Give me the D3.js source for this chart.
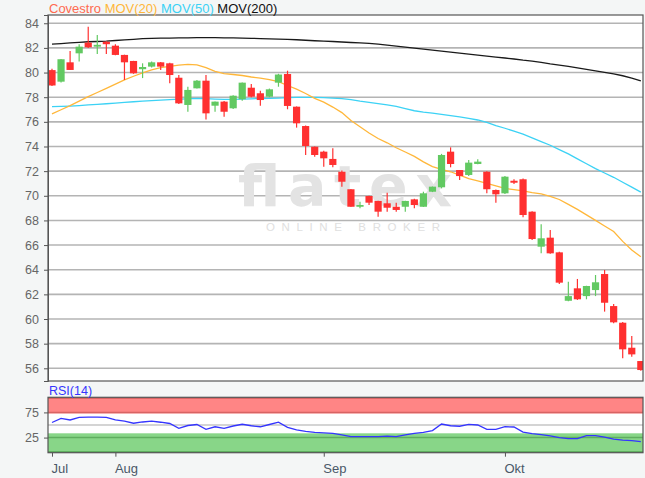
<!DOCTYPE html>
<html><head><meta charset="utf-8">
<script src="https://cdn.jsdelivr.net/npm/d3@7"></script>
<style>
body{margin:0;background:#f4f6f6;}
svg{display:block;font-family:"Liberation Sans",Arial,sans-serif;}
</style>
</head><body>
<svg id="c" width="645" height="478"></svg>
<script>
// ---- data ----
const dates = [
 "2018-07-23","2018-07-24","2018-07-25","2018-07-26","2018-07-27","2018-07-30","2018-07-31",
 "2018-08-01","2018-08-02","2018-08-03","2018-08-06","2018-08-07","2018-08-08","2018-08-09","2018-08-10",
 "2018-08-13","2018-08-14","2018-08-15","2018-08-16","2018-08-17","2018-08-20","2018-08-21","2018-08-22",
 "2018-08-23","2018-08-24","2018-08-27","2018-08-28","2018-08-29","2018-08-30","2018-08-31",
 "2018-09-03","2018-09-04","2018-09-05","2018-09-06","2018-09-07","2018-09-10","2018-09-11","2018-09-12",
 "2018-09-13","2018-09-14","2018-09-17","2018-09-18","2018-09-19","2018-09-20","2018-09-21","2018-09-24",
 "2018-09-25","2018-09-26","2018-09-27","2018-09-28",
 "2018-10-01","2018-10-02","2018-10-03","2018-10-04","2018-10-05","2018-10-08","2018-10-09","2018-10-10",
 "2018-10-11","2018-10-12","2018-10-15","2018-10-16","2018-10-17","2018-10-18","2018-10-19","2018-10-22"];
const open  = [80.2,79.26,80.83,81.56,82.43,82.1,82.5,82.18,81.43,80.94,80.27,80.48,80.83,80.75,79.58,77.37,78.72,79.34,77.31,77.64,77.1,77.83,78.77,78.32,78.04,79.18,79.88,77.23,75.66,73.98,73.58,72.99,71.95,70.53,69.11,69.98,69.58,69.39,69.11,69.11,69.71,69.11,70.33,70.69,73.58,72.09,71.69,72.58,71.95,70.47,70.2,71.22,71.34,68.71,65.87,66.6,65.41,61.48,62.49,61.86,62.35,63.65,61.05,59.7,57.67,56.59];
const high  = [80.3,81.1,81.75,82.3,83.72,83.05,82.55,82.3,81.45,80.95,80.75,80.9,80.85,80.8,79.8,78.85,79.4,79.8,77.66,77.7,78.15,79.2,79.07,78.53,78.7,79.9,80.15,77.25,75.7,74.0,73.66,73.85,72.05,70.55,69.52,70.0,69.6,70.25,69.44,69.6,69.75,70.33,70.75,73.4,73.93,72.1,72.9,72.96,72.0,70.5,71.6,71.34,71.4,68.75,67.69,67.22,65.45,63.03,63.25,62.7,63.57,63.98,61.22,59.75,58.62,56.6];
const low   = [78.9,79.2,80.2,80.9,82.0,81.5,81.5,81.4,79.4,79.9,79.55,80.4,80.2,79.13,77.45,76.82,78.7,76.2,76.82,76.42,77.05,77.72,78.0,77.31,78.0,78.85,77.02,75.53,73.31,73.17,72.36,72.31,70.74,69.1,68.98,69.25,68.3,68.71,68.71,68.71,68.98,69.1,70.3,70.6,72.31,71.28,71.6,72.55,70.2,69.44,70.15,70.96,68.25,66.41,65.33,65.3,62.84,61.45,61.55,61.6,61.86,60.6,59.65,56.81,56.94,55.8];
const close = [78.95,81.08,80.21,82.1,82.05,82.25,82.3,81.43,80.83,79.94,80.45,80.83,80.48,79.8,77.5,78.59,79.34,76.69,77.64,76.82,78.12,79.18,78.04,77.77,78.64,79.84,77.29,75.88,74.04,73.31,73.04,72.5,71.14,69.11,69.25,69.44,68.71,69.03,68.85,69.58,69.25,70.2,70.74,73.31,72.58,71.6,72.69,72.77,70.53,70.12,71.55,71.06,68.44,66.49,66.55,65.33,62.95,61.86,61.6,62.68,62.98,61.32,59.73,57.54,57.13,55.86];
const mov20 = [76.64,76.98,77.32,77.68,78.04,78.38,78.72,79.06,79.4,79.7,79.98,80.22,80.4,80.5,80.6,80.66,80.62,80.4,80.1,79.92,79.84,79.76,79.64,79.54,79.42,79.26,78.95,78.65,78.3,77.9,77.6,77.2,76.75,76.1,75.6,75.1,74.65,74.3,73.9,73.55,73.2,72.75,72.36,72.15,71.95,71.68,71.4,71.2,71.0,70.8,70.6,70.5,70.4,70.25,70.15,69.95,69.7,69.3,68.9,68.45,68.0,67.55,67.1,66.3,65.6,65.05];
const mov50 = [77.23,77.25,77.28,77.32,77.37,77.42,77.47,77.52,77.58,77.63,77.68,77.72,77.76,77.8,77.84,77.87,77.9,77.88,77.85,77.82,77.83,77.85,77.87,77.89,77.91,77.93,77.96,77.98,77.99,77.98,77.96,77.92,77.88,77.8,77.68,77.58,77.48,77.37,77.25,77.08,76.9,76.78,76.7,76.6,76.5,76.4,76.28,76.15,75.95,75.7,75.48,75.25,75.0,74.7,74.4,74.1,73.75,73.4,73.0,72.6,72.2,71.85,71.5,71.1,70.7,70.3];
const mov200 = [82.3,82.35,82.4,82.45,82.5,82.52,82.55,82.6,82.65,82.7,82.75,82.78,82.8,82.8,82.82,82.82,82.83,82.83,82.83,82.82,82.82,82.8,82.78,82.76,82.74,82.72,82.7,82.66,82.62,82.58,82.55,82.52,82.48,82.44,82.4,82.36,82.3,82.22,82.14,82.06,81.98,81.9,81.82,81.74,81.66,81.58,81.5,81.42,81.34,81.26,81.18,81.1,81.0,80.92,80.82,80.7,80.6,80.5,80.38,80.26,80.14,80.02,79.9,79.74,79.55,79.32];
const rsi = [55,63,60,65,65.5,65.5,65.3,60,57.5,53.5,56,57.5,55.5,53,43.5,49,51,41.5,46.5,43.5,48,51.5,48.5,46.5,51,55.5,45.4,40.5,37.5,35.5,34.5,33.5,30.5,27,27,26.8,26.8,28,27,30.5,33.5,35.5,39,52,48.5,47.5,51.4,50,41.5,41.5,46.6,46,36,33,31,28.5,25,22.8,23,28.8,28.8,26,22,20,19,16.8];
const priceTicks = [56,58,60,62,64,66,68,70,72,74,76,78,80,82,84];
const rsiTicks = [25,75];
const monthNames = ["Jan","Feb","Mär","Apr","Mai","Jun","Jul","Aug","Sep","Okt","Nov","Dez"];
const legendNames = ["Covestro","MOV(20)","MOV(50)","MOV(200)"];
const legendColors = ["#ff6a50","#ffb73a","#3cd2f5","#111111"];

// ---- layout ----
const svg = d3.select("#c");
const L = 48, R = 643, mainTop = 15, mainBot = 381, rTop = 397.3, rBot = 452.7;
const x = d3.scaleLinear().domain([-0.44, 65.24]).range([L, R]);
const y = d3.scaleLinear().domain([54.97, 84.67]).range([mainBot, mainTop]);
const yr = d3.scaleLinear().domain([-5, 105]).range([rBot, rTop]);

svg.append("rect").attr("width",645).attr("height",478).attr("fill","#f4f6f6");

// main panel background
svg.append("rect").attr("x",L).attr("y",mainTop).attr("width",R-L).attr("height",mainBot-mainTop).attr("fill","#fff");
// grid
svg.append("g").selectAll("line").data(priceTicks).join("line")
  .attr("x1",L).attr("x2",R).attr("y1",d=>y(d)).attr("y2",d=>y(d))
  .attr("stroke","#b4b4b4").attr("stroke-width",1.6);

// watermark
const wm = svg.append("g");
wm.append("text").attr("x",238).attr("y",206).attr("textLength",214).attr("lengthAdjust","spacing")
  .attr("font-size",57).attr("font-weight","bold").attr("font-family","DejaVu Sans, sans-serif")
  .attr("fill","#e3e3e3").text("flatex");
wm.append("text").attr("x",266).attr("y",231).attr("textLength",174).attr("lengthAdjust","spacing")
  .attr("font-size",11.5).attr("fill","#e0e0e0").text("ONLINE BROKER");

// clip
svg.append("clipPath").attr("id","mc").append("rect").attr("x",L).attr("y",mainTop).attr("width",R-L).attr("height",mainBot-mainTop);
const plot = svg.append("g").attr("clip-path","url(#mc)");

const idx = d3.range(dates.length);
const line = arr => d3.line().x((d,i)=>x(i)).y(d=>y(d))(arr);
plot.append("path").attr("d",line(mov200)).attr("fill","none").attr("stroke","#1a1a1a").attr("stroke-width",1.3);
plot.append("path").attr("d",line(mov50)).attr("fill","none").attr("stroke","#3cd2f5").attr("stroke-width",1.3);
plot.append("path").attr("d",line(mov20)).attr("fill","none").attr("stroke","#ffb73a").attr("stroke-width",1.3);

const up = "#62c962", dn = "#ff3030";
const cg = plot.append("g").selectAll("g").data(idx).join("g");
cg.append("line").attr("x1",i=>x(i)).attr("x2",i=>x(i)).attr("y1",i=>y(high[i])).attr("y2",i=>y(low[i]))
  .attr("stroke",i=>close[i]>=open[i]?up:dn).attr("stroke-width",1.2);
cg.append("rect").attr("x",i=>x(i)-3.6).attr("width",7.2)
  .attr("y",i=>y(Math.max(open[i],close[i])))
  .attr("height",i=>Math.max(1.5,Math.abs(y(open[i])-y(close[i]))))
  .attr("fill",i=>close[i]>=open[i]?up:dn);

// main border & axis
svg.append("rect").attr("x",L).attr("y",mainTop).attr("width",R-L).attr("height",mainBot-mainTop)
  .attr("fill","none").attr("stroke","#555").attr("stroke-width",1.2);
const ya = svg.append("g").attr("transform",`translate(${L},0)`)
  .call(d3.axisLeft(y).tickValues(priceTicks).tickSize(4).tickPadding(5));
ya.select(".domain").attr("stroke","#555");
ya.selectAll(".tick line").attr("stroke","#555");
ya.selectAll("text").attr("fill","#666").attr("font-size",12.5).attr("font-family","Liberation Sans, Arial, sans-serif");

// legend
const lg = svg.append("text").attr("x",49).attr("y",12.5).attr("font-size",13);
legendNames.forEach((n,k)=>{ lg.append("tspan").attr("fill",legendColors[k]).text((k?" ":"")+n); });

// RSI panel
svg.append("rect").attr("x",L).attr("y",rTop).attr("width",R-L).attr("height",rBot-rTop).attr("fill","#fff");
svg.append("rect").attr("x",L).attr("y",yr(105)).attr("width",R-L).attr("height",yr(73)-yr(105)).attr("fill","#ff8585");
svg.append("line").attr("x1",L).attr("x2",R).attr("y1",yr(75)).attr("y2",yr(75)).attr("stroke","#d86464").attr("stroke-width",1.5);
svg.append("rect").attr("x",L).attr("y",yr(33.5)).attr("width",R-L).attr("height",yr(-5)-yr(33.5)).attr("fill","#88d688");
svg.append("line").attr("x1",L).attr("x2",R).attr("y1",yr(25)).attr("y2",yr(25)).attr("stroke","#5fae5f").attr("stroke-width",1.5);
svg.append("line").attr("x1",L).attr("x2",R).attr("y1",yr(50)).attr("y2",yr(50)).attr("stroke","#aaa").attr("stroke-width",1.2);
svg.append("line").attr("x1",L).attr("x2",R).attr("y1",yr(-3)).attr("y2",yr(-3)).attr("stroke","#5fae5f").attr("stroke-width",1.5);
svg.append("line").attr("x1",L).attr("x2",R).attr("y1",yr(103)).attr("y2",yr(103)).attr("stroke","#d86464").attr("stroke-width",1.2);
svg.append("path").attr("d",d3.line().x((d,i)=>x(i)).y(d=>yr(d))(rsi))
  .attr("fill","none").attr("stroke","#3535ff").attr("stroke-width",1.3);
svg.append("rect").attr("x",L).attr("y",rTop).attr("width",R-L).attr("height",rBot-rTop)
  .attr("fill","none").attr("stroke","#555").attr("stroke-width",1.2);
const ra = svg.append("g").attr("transform",`translate(${L},0)`)
  .call(d3.axisLeft(yr).tickValues(rsiTicks).tickSize(4).tickPadding(5));
ra.select(".domain").remove();
ra.selectAll(".tick line").attr("stroke","#555");
ra.selectAll("text").attr("fill","#666").attr("font-size",12.5).attr("font-family","Liberation Sans, Arial, sans-serif");
svg.append("text").attr("x",49).attr("y",395).attr("font-size",12.5).attr("fill","#3535ff").text("RSI(14)");

// x axis: first trading day of each month
const monthIdx = idx.filter(i => i===0 || dates[i].slice(5,7)!==dates[i-1].slice(5,7));
const xa = svg.append("g").attr("transform",`translate(0,${rBot})`)
  .call(d3.axisBottom(x).tickValues(monthIdx).tickSize(4).tickPadding(7)
    .tickFormat(i => monthNames[+dates[i].slice(5,7)-1]));
xa.select(".domain").remove();
xa.selectAll(".tick line").attr("stroke","#555");
xa.selectAll("text").attr("text-anchor","start").attr("dx",-1).attr("fill","#4a5868").attr("font-size",13)
  .attr("font-family","Liberation Sans, Arial, sans-serif");
</script>
</body></html>
